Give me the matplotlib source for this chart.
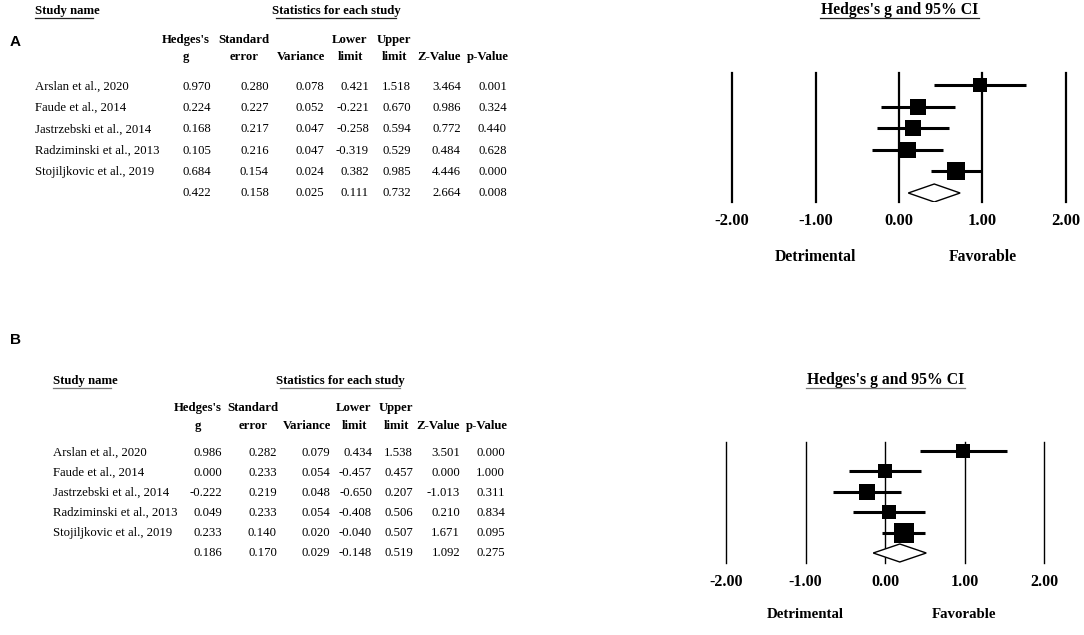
import matplotlib
matplotlib.use("Agg")
import matplotlib.pyplot as plt
from matplotlib.lines import Line2D
from matplotlib.patches import Polygon
import numpy as np

W, H = 1084, 635

# Dados das meta-analises (linha final = efeito combinado)
studies = ["Arslan et al., 2020", "Faude et al., 2014", "Jastrzebski et al., 2014",
           "Radziminski et al., 2013", "Stojiljkovic et al., 2019", ""]
col_top = ["Hedges's", "Standard", "", "Lower", "Upper", "", ""]
col_bottom = ["g", "error", "Variance", "limit", "limit", "Z-Value", "p-Value"]
x_ticks = [-2.0, -1.0, 0.0, 1.0, 2.0]

g_a = [0.970, 0.224, 0.168, 0.105, 0.684, 0.422]
se_a = [0.280, 0.227, 0.217, 0.216, 0.154, 0.158]
var_a = [0.078, 0.052, 0.047, 0.047, 0.024, 0.025]
lo_a = [0.421, -0.221, -0.258, -0.319, 0.382, 0.111]
hi_a = [1.518, 0.670, 0.594, 0.529, 0.985, 0.732]
z_a = [3.464, 0.986, 0.772, 0.484, 4.446, 2.664]
p_a = [0.001, 0.324, 0.440, 0.628, 0.000, 0.008]

g_b = [0.986, 0.000, -0.222, 0.049, 0.233, 0.186]
se_b = [0.282, 0.233, 0.219, 0.233, 0.140, 0.170]
var_b = [0.079, 0.054, 0.048, 0.054, 0.020, 0.029]
lo_b = [0.434, -0.457, -0.650, -0.408, -0.040, -0.148]
hi_b = [1.538, 0.457, 0.207, 0.506, 0.507, 0.519]
z_b = [3.501, 0.000, -1.013, 0.210, 1.671, 1.092]
p_b = [0.000, 1.000, 0.311, 0.834, 0.095, 0.275]

SERIF = "Liberation Serif"
FS = 9.2  # tamanho do texto da tabela

fig = plt.figure(figsize=(W / 100, H / 100), dpi=100)


def fx(x):
    return x / W


def fy(y):
    return 1 - y / H


def underline(x0, x1, y, color="#444444"):
    fig.add_artist(Line2D([fx(x0), fx(x1)], [fy(y), fy(y)], color=color, lw=0.9,
                          transform=fig.transFigure))


def draw_panel(letter, cols, lay):
    # letra do painel
    fig.text(fx(10), fy(lay["letter_y"]), letter, fontsize=11, fontweight="bold",
             family="Liberation Sans", ha="left", va="center")

    # cabecalhos da tabela
    fig.text(fx(lay["name_x"]), fy(lay["head_y"]), "Study name", fontsize=FS,
             fontweight="bold", family=SERIF, ha="left", va="center")
    underline(lay["name_x"], lay["name_x"] + 58, lay["head_y"] + 7, lay["ul_color"])
    fig.text(fx(lay["stats_c"]), fy(lay["head_y"]), "Statistics for each study",
             fontsize=FS, fontweight="bold", family=SERIF, ha="center", va="center")
    underline(lay["stats_c"] - 60, lay["stats_c"] + 60, lay["head_y"] + 7, lay["ul_color"])

    for c, t1, t2 in zip(lay["col_c"], col_top, col_bottom):
        if t1:
            fig.text(fx(c), fy(lay["col_y1"]), t1, fontsize=FS, fontweight="bold",
                     family=SERIF, ha="center", va="center")
        fig.text(fx(c), fy(lay["col_y2"]), t2, fontsize=FS, fontweight="bold",
                 family=SERIF, ha="center", va="center")

    # linhas da tabela
    for i, name in enumerate(studies):
        y = lay["row0"] + i * lay["row_step"]
        fig.text(fx(lay["name_x"]), fy(y), name, fontsize=FS, family=SERIF,
                 ha="left", va="center")
        for r, vals in zip(lay["col_r"], cols):
            fig.text(fx(r), fy(y), f"{vals[i]:.3f}", fontsize=FS, family=SERIF,
                     ha="right", va="center")

    # forest plot
    g, lo, hi, var = cols[0], cols[3], cols[4], cols[2]
    x0, x1, yt, yb = lay["fx0"], lay["fx1"], lay["ftop"], lay["fbot"]
    ax = fig.add_axes([fx(x0), fy(yb), fx(x1 - x0), (yb - yt) / H])
    ax.set_xlim(-2, 2)
    step = lay["frow_step"]
    ax.set_ylim(5 + (yb - lay["frow0"] - 5 * step) / step, -(lay["frow0"] - yt) / step)
    for t in x_ticks:
        ax.axvline(t, color="black", lw=lay["vlw"], zorder=1, clip_on=False)

    n = len(studies) - 1
    for i in range(n):
        ax.plot([lo[i], hi[i]], [i, i], color="black", lw=2.2, zorder=2,
                solid_capstyle="butt")
        side = 8 + 1.6 * np.sqrt(1 / var[i])
        ax.plot(g[i], i, marker="s", color="black", ms=side * 0.72, mew=0, zorder=3)
    h = 9 / step
    diamond = Polygon([[lo[n], n], [g[n], n - h], [hi[n], n], [g[n], n + h]],
                      closed=True, facecolor="white", edgecolor="black", lw=1.0, zorder=3)
    ax.add_patch(diamond)

    ax.set_xticks(x_ticks)
    ax.set_xticklabels([f"{t:.2f}" for t in x_ticks])
    for lab in ax.get_xticklabels():
        lab.set_fontsize(lay["tick_fs"])
        lab.set_fontweight("bold")
        lab.set_family(SERIF)
    ax.tick_params(axis="x", length=0, pad=lay["tick_pad"])
    ax.set_yticks([])
    for s in ax.spines.values():
        s.set_visible(False)
    ax.patch.set_alpha(0)

    trans = ax.get_xaxis_transform()
    yd = (yb - lay["dir_y"]) / (yb - yt)
    ax.text(-1, yd, "Detrimental", transform=trans, fontsize=lay["dir_fs"],
            fontweight="bold", family=SERIF, ha="center", va="center", clip_on=False)
    ax.text(1, yd, "Favorable", transform=trans, fontsize=lay["dir_fs"],
            fontweight="bold", family=SERIF, ha="center", va="center", clip_on=False)

    fig.text(fx(lay["title_c"]), fy(lay["title_y"]), "Hedges's g and 95% CI",
             fontsize=11.3, fontweight="bold", family=SERIF, ha="center", va="center")
    underline(lay["title_c"] - 80, lay["title_c"] + 79, lay["title_y"] + 8, lay["ul_color"])


layout_a = dict(letter_y=42, name_x=35, head_y=11, stats_c=336,
                col_c=[186, 244, 301, 350, 394, 439, 488], col_y1=40, col_y2=57,
                col_r=[211, 269, 324, 369, 411, 461, 507], row0=87, row_step=21.2,
                fx0=732, fx1=1066, ftop=73, fbot=202, frow0=85, frow_step=21.6,
                vlw=1.6, tick_fs=12, tick_pad=8, dir_y=257, dir_fs=11.3,
                title_c=900, title_y=10, ul_color="#222222")
layout_b = dict(letter_y=340, name_x=53, head_y=381, stats_c=340,
                col_c=[198, 253, 307, 354, 396, 438, 487], col_y1=408, col_y2=426,
                col_r=[222, 277, 330, 372, 413, 460, 505], row0=453, row_step=20,
                fx0=726, fx1=1044, ftop=442, fbot=563, frow0=451, frow_step=20.4,
                vlw=1.0, tick_fs=11.5, tick_pad=8, dir_y=615, dir_fs=10.7,
                title_c=886, title_y=380, ul_color="#777777")

draw_panel("A", [g_a, se_a, var_a, lo_a, hi_a, z_a, p_a], layout_a)
draw_panel("B", [g_b, se_b, var_b, lo_b, hi_b, z_b, p_b], layout_b)

fig.savefig("out.png", dpi=100, facecolor="white")
plt.close(fig)
